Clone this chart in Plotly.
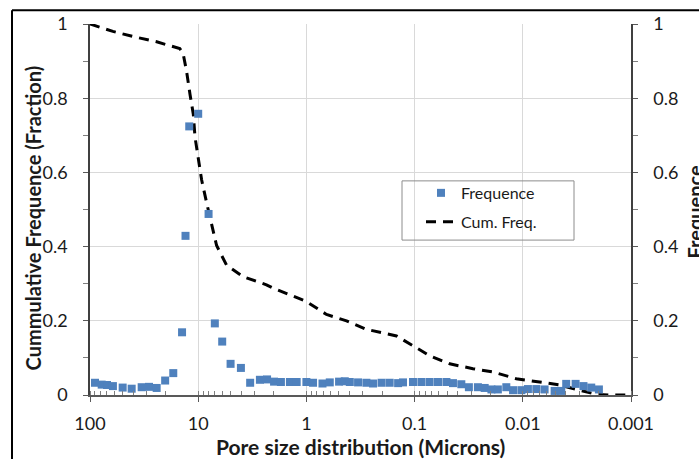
import plotly.graph_objects as go

# Frequency data (pore size in microns, frequency)
freq_x = [89.9, 78.0, 69.6, 61.4, 49.9, 41.2, 33.3, 28.5, 24.2, 20.2, 17.0, 14.1, 13.1, 12.1,
          10.0, 8.02, 7.02, 6.0, 5.02, 4.03, 3.31, 2.69, 2.31, 1.99, 1.72, 1.42, 1.23, 1.0,
          0.868, 0.71, 0.608, 0.499, 0.442, 0.397, 0.333, 0.279, 0.242, 0.202, 0.170, 0.142,
          0.128, 0.1035, 0.0865, 0.0726, 0.0608, 0.0508, 0.0442, 0.0370, 0.0315, 0.0260,
          0.0225, 0.0195, 0.0170, 0.0142, 0.0123, 0.0103, 0.00897, 0.00750, 0.00629,
          0.00508, 0.00441, 0.00397, 0.00325, 0.00275, 0.00233, 0.00198]
freq_y = [0.033, 0.028, 0.027, 0.024, 0.020, 0.017, 0.021, 0.022, 0.019, 0.039, 0.059, 0.169,
          0.429, 0.724, 0.758, 0.488, 0.193, 0.144, 0.084, 0.073, 0.033, 0.041, 0.042, 0.036,
          0.035, 0.035, 0.035, 0.035, 0.033, 0.031, 0.034, 0.036, 0.037, 0.035, 0.034, 0.033,
          0.031, 0.033, 0.033, 0.032, 0.034, 0.035, 0.035, 0.035, 0.035, 0.035, 0.032, 0.029,
          0.021, 0.021, 0.019, 0.015, 0.015, 0.021, 0.013, 0.013, 0.016, 0.016, 0.015, 0.011,
          0.011, 0.030, 0.030, 0.024, 0.020, 0.015]

# Cumulative frequency curve
cum_x = [100, 61.4, 38.4, 24.2, 19.0, 14.8, 13.8, 12.8, 11.9, 11.1, 10.7, 10.0, 9.3, 8.36,
         7.52, 6.76, 5.47, 3.84, 2.34, 2.03, 1.0, 0.652, 0.426, 0.279, 0.147, 0.111, 0.0726,
         0.0474, 0.0289, 0.0189, 0.0115, 0.0070, 0.00457, 0.00299, 0.00210, 0.00158, 0.00108]
cum_y = [1.0, 0.98, 0.965, 0.952, 0.943, 0.934, 0.921, 0.872, 0.81, 0.757, 0.695, 0.633,
         0.58, 0.518, 0.456, 0.403, 0.35, 0.319, 0.297, 0.288, 0.252, 0.217, 0.2, 0.177,
         0.159, 0.137, 0.106, 0.084, 0.071, 0.062, 0.044, 0.035, 0.027, 0.013, 0.002, 0.0, 0.0]

x_tickvals = [100, 10, 1, 0.1, 0.01, 0.001]
x_ticktext = ["100", "10", "1", "0.1", "0.01", "0.001"]
y_tickvals = [0, 0.2, 0.4, 0.6, 0.8, 1]
y_ticktext = ["0", "0.2", "0.4", "0.6", "0.8", "1"]

FONT = "Lato, 'Open Sans', sans-serif"
AXIS_COLOR = "#595959"
GRID = "#d9d9d9"
TXT = "#1a1a1a"

fig = go.Figure()
fig.add_trace(go.Scatter(
    x=freq_x, y=freq_y, mode="markers", name="Frequence", yaxis="y2", legendgroup="a",
    marker=dict(symbol="square", size=8, color="#4F81BD", line=dict(width=0)),
))
fig.add_trace(go.Scatter(
    x=cum_x, y=cum_y, mode="lines", name="Cum. Freq.", legendgroup="b",
    line=dict(color="black", width=3, dash="10px,7px"),
))

L, R, T, B = 90, 68, 19, 64
W, H = 699, 459
pw = W - L - R
ph = H - T - B

def px(xp):
    return (xp - L) / pw

def py(yp):
    return (H - B - yp) / ph

fig.update_layout(
    width=W, height=H,
    margin=dict(l=L, r=R, t=T, b=B, pad=0),
    paper_bgcolor="white", plot_bgcolor="white",
    font=dict(family=FONT, size=18, color=TXT),
    showlegend=True,
    legend=dict(
        x=px(421), y=py(173), xanchor="left", yanchor="top",
        bgcolor="rgba(0,0,0,0)", borderwidth=0,
        font=dict(family=FONT, size=16, color=TXT),
        itemwidth=30, traceorder="grouped", tracegroupgap=5,
    ),
    xaxis=dict(
        type="log", range=[2, -3],
        tickvals=x_tickvals, ticktext=x_ticktext,
        showgrid=True, gridcolor=GRID, gridwidth=1,
        showline=True, linecolor=AXIS_COLOR, linewidth=1.5,
        ticks="outside", ticklen=5, tickcolor=AXIS_COLOR,
        minor=dict(ticks="inside", ticklen=4, tickcolor="#7f7f7f", showgrid=False, dtick="D1"),
        zeroline=False, mirror=False, ticklabelstandoff=7,
        tickfont=dict(size=18),
    ),
    yaxis=dict(
        range=[0, 1], tickvals=y_tickvals, ticktext=y_ticktext,
        showgrid=True, gridcolor=GRID, gridwidth=1,
        showline=True, linecolor="#404040", linewidth=1.5,
        ticks="outside", ticklen=5, tickcolor=AXIS_COLOR,
        minor=dict(ticks="outside", ticklen=5, tickcolor="#7f7f7f", dtick=0.1, showgrid=False),
        zeroline=False, ticklabelstandoff=12,
        tickfont=dict(size=18),
    ),
    yaxis2=dict(
        range=[0, 1], overlaying="y", side="right",
        tickvals=y_tickvals, ticktext=y_ticktext,
        showgrid=False,
        showline=True, linecolor="#404040", linewidth=1.5,
        ticks="outside", ticklen=5, tickcolor=AXIS_COLOR,
        minor=dict(ticks="outside", ticklen=5, tickcolor="#7f7f7f", dtick=0.1),
        zeroline=False, ticklabelstandoff=12,
        tickfont=dict(size=18),
    ),
    annotations=[
        dict(text="<b>Cummulative Frequence (Fraction)</b>", textangle=-90,
             xref="paper", yref="paper", x=px(33), y=py(216),
             xanchor="center", yanchor="middle", showarrow=False,
             font=dict(family=FONT, size=20, color=TXT)),
        dict(text="<b>Frequence</b>", textangle=-90,
             xref="paper", yref="paper", x=px(695), y=py(210),
             xanchor="center", yanchor="middle", showarrow=False,
             font=dict(family=FONT, size=20, color=TXT)),
        dict(text="<b>Pore size distribution (Microns)</b>",
             xref="paper", yref="paper", x=px(360), y=py(447),
             xanchor="center", yanchor="middle", showarrow=False,
             font=dict(family=FONT, size=21, color=TXT)),
    ],
    shapes=[
        dict(type="rect", xref="paper", yref="paper", x0=px(402), x1=px(574), y0=py(238), y1=py(178),
             line=dict(color="#8c8c8c", width=1), fillcolor="rgba(0,0,0,0)"),
        dict(type="line", xref="paper", yref="paper", x0=px(12), x1=px(720), y0=py(5), y1=py(5),
             line=dict(color="black", width=2)),
        dict(type="line", xref="paper", yref="paper", x0=px(12), x1=px(12), y0=py(5), y1=py(480),
             line=dict(color="black", width=2)),
    ],
)

fig.write_html("out.html")
